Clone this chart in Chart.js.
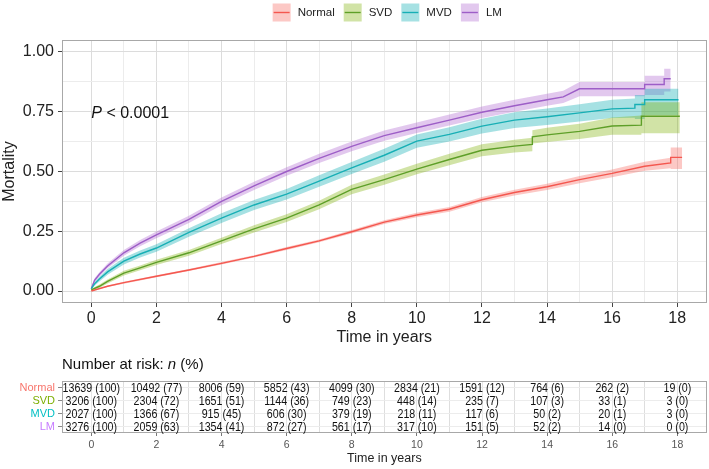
<!DOCTYPE html>
<html>
<head>
<meta charset="utf-8">
<script src="https://cdn.jsdelivr.net/npm/chart.js@4.4.0/dist/chart.umd.min.js"></script>
<style>
  html, body { margin: 0; padding: 0; background: #fff; }
  #wrap { position: relative; width: 709px; height: 469px; }
  #kmChart { position: absolute; left: 0; top: 0; }
  #riskChart { position: absolute; left: 0; top: 350px; }
</style>
</head>
<body>
<div id="wrap">
  <canvas id="kmChart" width="709" height="350"></canvas>
  <canvas id="riskChart" width="709" height="119"></canvas>
</div>
<script>
// === DATA ===
const groups = ["Normal", "SVD", "MVD", "LM"];

// cumulative mortality (duplicated times = visible steps)
const normalTime = [0, 0.5, 1, 2, 3, 4, 5, 6, 7, 8, 9, 10, 11, 12, 13, 14, 15, 16, 17, 17.8, 17.8, 18.15];
const normalEst  = [0, 0.02, 0.035, 0.062, 0.088, 0.116, 0.145, 0.178, 0.21, 0.248, 0.288, 0.318, 0.342, 0.382, 0.412, 0.436, 0.466, 0.492, 0.522, 0.536, 0.559, 0.559];
const normalLow  = [0, 0.017, 0.031, 0.058, 0.084, 0.111, 0.14, 0.172, 0.204, 0.241, 0.28, 0.309, 0.332, 0.371, 0.4, 0.423, 0.451, 0.476, 0.503, 0.514, 0.51, 0.51];
const normalHigh = [0, 0.023, 0.039, 0.066, 0.092, 0.121, 0.15, 0.184, 0.216, 0.255, 0.296, 0.327, 0.352, 0.393, 0.424, 0.449, 0.481, 0.508, 0.541, 0.558, 0.6, 0.6];

const svdTime = [0, 0.25, 0.5, 1, 1.5, 2, 3, 4, 5, 6, 7, 8, 9, 10, 11, 12, 13, 13.55, 13.55, 14, 15, 16, 16.9, 16.9, 18.08];
const svdEst  = [0.005, 0.02, 0.04, 0.075, 0.097, 0.12, 0.16, 0.21, 0.26, 0.305, 0.36, 0.425, 0.466, 0.51, 0.55, 0.589, 0.606, 0.613, 0.645, 0.653, 0.668, 0.69, 0.694, 0.731, 0.731];
const svdLow  = [0, 0.013, 0.032, 0.065, 0.087, 0.109, 0.148, 0.197, 0.245, 0.289, 0.342, 0.405, 0.445, 0.488, 0.526, 0.564, 0.579, 0.585, 0.617, 0.623, 0.636, 0.654, 0.654, 0.66, 0.66];
const svdHigh = [0.01, 0.027, 0.048, 0.085, 0.107, 0.131, 0.172, 0.223, 0.275, 0.321, 0.378, 0.445, 0.487, 0.532, 0.574, 0.614, 0.633, 0.641, 0.673, 0.683, 0.7, 0.726, 0.734, 0.79, 0.79];

const mvdTime = [0, 0.1, 0.25, 0.5, 1, 1.5, 2, 3, 4, 5, 6, 7, 8, 9, 10, 11, 12, 13, 14, 15, 16, 16.7, 16.7, 17, 17, 18.04];
const mvdEst  = [0.01, 0.03, 0.05, 0.08, 0.125, 0.155, 0.18, 0.245, 0.305, 0.36, 0.405, 0.46, 0.515, 0.568, 0.627, 0.655, 0.69, 0.715, 0.729, 0.745, 0.762, 0.765, 0.78, 0.78, 0.8, 0.8];
const mvdLow  = [0.005, 0.022, 0.04, 0.068, 0.111, 0.14, 0.164, 0.227, 0.285, 0.339, 0.383, 0.436, 0.49, 0.541, 0.599, 0.625, 0.659, 0.682, 0.695, 0.709, 0.724, 0.725, 0.72, 0.72, 0.735, 0.735];
const mvdHigh = [0.015, 0.038, 0.06, 0.092, 0.139, 0.17, 0.196, 0.263, 0.325, 0.381, 0.427, 0.484, 0.54, 0.595, 0.655, 0.685, 0.721, 0.748, 0.763, 0.781, 0.8, 0.805, 0.82, 0.82, 0.846, 0.846];

const lmTime = [0, 0.1, 0.25, 0.5, 1, 1.5, 2, 3, 4, 5, 6, 7, 8, 9, 10, 11, 12, 13, 14, 14.5, 15, 17, 17, 17.6, 17.6, 17.8];
const lmEst  = [0.01, 0.045, 0.07, 0.105, 0.16, 0.2, 0.235, 0.3, 0.375, 0.44, 0.5, 0.555, 0.605, 0.65, 0.683, 0.715, 0.748, 0.775, 0.8, 0.812, 0.846, 0.846, 0.864, 0.864, 0.888, 0.888];
const lmLow  = [0.005, 0.037, 0.061, 0.095, 0.148, 0.187, 0.221, 0.285, 0.359, 0.423, 0.482, 0.536, 0.585, 0.629, 0.661, 0.692, 0.724, 0.75, 0.775, 0.786, 0.815, 0.815, 0.82, 0.82, 0.835, 0.835];
const lmHigh = [0.015, 0.053, 0.079, 0.115, 0.172, 0.213, 0.249, 0.315, 0.391, 0.457, 0.518, 0.574, 0.625, 0.671, 0.705, 0.738, 0.772, 0.8, 0.825, 0.838, 0.874, 0.874, 0.9, 0.9, 0.93, 0.93];

// axis ticks
const xTicks = [0, 1, 2, 3, 4, 5, 6, 7, 8, 9, 10, 11, 12, 13, 14, 15, 16, 17, 18];
const yTicks = [0, 0.125, 0.25, 0.375, 0.5, 0.625, 0.75, 0.875, 1];

// number at risk table
const riskTimes = [0, 2, 4, 6, 8, 10, 12, 14, 16, 18];
const riskNormalN   = [13639, 10492, 8006, 5852, 4099, 2834, 1591, 764, 262, 19];
const riskNormalPct = [100, 77, 59, 43, 30, 21, 12, 6, 2, 0];
const riskSvdN      = [3206, 2304, 1651, 1144, 749, 448, 235, 107, 33, 3];
const riskSvdPct    = [100, 72, 51, 36, 23, 14, 7, 3, 1, 0];
const riskMvdN      = [2027, 1366, 915, 606, 379, 218, 117, 50, 20, 3];
const riskMvdPct    = [100, 67, 45, 30, 19, 11, 6, 2, 1, 0];
const riskLmN       = [3276, 2059, 1354, 872, 561, 317, 151, 52, 14, 0];
const riskLmPct     = [100, 63, 41, 27, 17, 10, 5, 2, 0, 0];

// === STYLE ===
const lineColors  = ["#F4574F", "#5E9F28", "#17AFB5", "#9D5EC7"];
const bandColors  = ["rgba(248,118,109,0.4)", "rgba(124,174,0,0.35)", "rgba(0,170,175,0.35)", "rgba(180,110,210,0.38)"];
const labelColors = ["#F8766D", "#7CAE00", "#00BFC4", "#C77CFF"];
const FONT = "'Liberation Sans', Arial, sans-serif";
const majorGrid = "#dcdcdc";
const minorGrid = "#ececec";

const km = [
  { time: normalTime, est: normalEst, low: normalLow, high: normalHigh },
  { time: svdTime, est: svdEst, low: svdLow, high: svdHigh },
  { time: mvdTime, est: mvdEst, low: mvdLow, high: mvdHigh },
  { time: lmTime, est: lmEst, low: lmLow, high: lmHigh }
];
const riskN = [riskNormalN, riskSvdN, riskMvdN, riskLmN];
const riskPct = [riskNormalPct, riskSvdPct, riskMvdPct, riskLmPct];

function pts(xs, ys) {
  return xs.map((x, i) => ({ x: x, y: ys[i] }));
}

// === PLUGINS ===
const panelBorder = {
  id: "panelBorder",
  afterDatasetsDraw(chart) {
    const a = chart.chartArea, ctx = chart.ctx;
    ctx.save();
    ctx.strokeStyle = "#a8a8a8";
    ctx.lineWidth = 1;
    ctx.strokeRect(Math.round(a.left) + 0.5, Math.round(a.top) + 0.5,
                   Math.round(a.width) - 1, Math.round(a.height) - 1);
    ctx.restore();
  }
};

const kmLegend = {
  id: "kmLegend",
  afterDraw(chart) {
    const ctx = chart.ctx, a = chart.chartArea;
    ctx.save();
    ctx.font = "11.5px " + FONT;
    const box = 18, gapText = 7, gapItem = 9, yc = 12.5;
    const widths = groups.map(g => box + gapText + ctx.measureText(g).width);
    const total = widths.reduce((s, w) => s + w, 0) + gapItem * (groups.length - 1);
    let x = (a.left + a.right) / 2 + 3 - total / 2;
    groups.forEach((g, i) => {
      ctx.fillStyle = bandColors[i];
      ctx.fillRect(x, yc - box / 2, box, box);
      ctx.strokeStyle = lineColors[i];
      ctx.lineWidth = 1.4;
      ctx.beginPath();
      ctx.moveTo(x + 1, yc);
      ctx.lineTo(x + box - 1, yc);
      ctx.stroke();
      ctx.fillStyle = "#222";
      ctx.textAlign = "left";
      ctx.textBaseline = "middle";
      ctx.fillText(g, x + box + gapText, yc);
      x += widths[i] + gapItem;
    });
    ctx.restore();
  }
};

const pValue = {
  id: "pValue",
  afterDatasetsDraw(chart) {
    const ctx = chart.ctx;
    const x = chart.scales.x.getPixelForValue(0);
    const y = chart.scales.y.getPixelForValue(0.743);
    ctx.save();
    ctx.fillStyle = "#111";
    ctx.textBaseline = "middle";
    ctx.textAlign = "left";
    ctx.font = "italic 16px " + FONT;
    ctx.fillText("P", x, y);
    const w = ctx.measureText("P").width;
    ctx.font = "16px " + FONT;
    ctx.fillText(" < 0.0001", x + w, y);
    ctx.restore();
  }
};

// === MAIN KM CHART ===
const lineSets = groups.map((g, i) => ({
  label: g,
  data: pts(km[i].time, km[i].est),
  borderColor: lineColors[i],
  borderWidth: 1.4,
  pointRadius: 0,
  fill: false
}));

const bandSets = [];
groups.forEach((g, i) => {
  bandSets.push({
    label: g + " lower",
    data: pts(km[i].time, km[i].low),
    borderWidth: 0,
    pointRadius: 0,
    fill: false
  });
  bandSets.push({
    label: g + " upper",
    data: pts(km[i].time, km[i].high),
    borderWidth: 0,
    pointRadius: 0,
    backgroundColor: bandColors[i],
    fill: { target: "-1", above: bandColors[i], below: bandColors[i] }
  });
});

new Chart(document.getElementById("kmChart"), {
  type: "line",
  data: { datasets: lineSets.concat(bandSets) },
  options: {
    responsive: false,
    animation: false,
    events: [],
    layout: { padding: { top: 40, right: 2.5, left: 0, bottom: 0 } },
    plugins: { legend: { display: false }, tooltip: { enabled: false } },
    scales: {
      x: {
        type: "linear",
        min: -0.9,
        max: 18.9,
        afterBuildTicks: s => { s.ticks = xTicks.map(v => ({ value: v })); },
        afterFit: s => { s.height = 47; },
        border: { display: false },
        grid: {
          color: c => (c.tick && c.tick.value % 2 === 0) ? majorGrid : minorGrid,
          tickColor: c => (c.tick && c.tick.value % 2 === 0) ? "#444" : "rgba(0,0,0,0)",
          tickLength: 4
        },
        ticks: {
          autoSkip: false,
          maxRotation: 0,
          padding: 2,
          color: "#222",
          font: { family: FONT, size: 16 },
          callback: v => (v % 2 === 0 ? String(v) : "")
        },
        title: {
          display: true,
          text: "Time in years",
          color: "#222",
          font: { family: FONT, size: 16 },
          padding: { top: 0, bottom: 3 }
        }
      },
      y: {
        min: -0.05,
        max: 1.05,
        afterBuildTicks: s => { s.ticks = yTicks.map(v => ({ value: v })); },
        afterFit: s => { s.width = 62; },
        border: { display: false },
        grid: {
          color: c => (c.tick && (c.tick.value * 8) % 2 === 0) ? majorGrid : minorGrid,
          tickColor: c => (c.tick && (c.tick.value * 8) % 2 === 0) ? "#444" : "rgba(0,0,0,0)",
          tickLength: 4
        },
        ticks: {
          padding: 4,
          color: "#222",
          font: { family: FONT, size: 16 },
          callback: v => ((v * 8) % 2 === 0 ? v.toFixed(2) : "")
        },
        title: {
          display: true,
          text: "Mortality",
          color: "#222",
          font: { family: FONT, size: 16 },
          padding: { top: 0, bottom: 0 }
        }
      }
    }
  },
  plugins: [panelBorder, kmLegend, pValue]
});

// === NUMBER AT RISK TABLE ===
const riskText = {
  id: "riskText",
  afterDatasetsDraw(chart) {
    const ctx = chart.ctx;
    ctx.save();
    ctx.fillStyle = "#111";
    ctx.textAlign = "center";
    ctx.textBaseline = "middle";
    ctx.font = "13px " + FONT;
    chart.data.datasets.forEach((ds, i) => {
      chart.getDatasetMeta(i).data.forEach((pt, j) => {
        ctx.save();
        ctx.translate(pt.x, pt.y + 0.5);
        ctx.scale(0.82, 1);   // the table font is a condensed one
        ctx.fillText(riskN[i][j] + " (" + riskPct[i][j] + ")", 0, 0);
        ctx.restore();
      });
    });
    // table title with italic n
    let x = 62;
    const y = 15;
    ctx.textAlign = "left";
    ctx.fillStyle = "#111";
    ctx.font = "15px " + FONT;
    ctx.fillText("Number at risk: ", x, y);
    x += ctx.measureText("Number at risk: ").width;
    ctx.font = "italic 15px " + FONT;
    ctx.fillText("n", x, y);
    x += ctx.measureText("n").width;
    ctx.font = "15px " + FONT;
    ctx.fillText(" (%)", x, y);
    ctx.restore();
  }
};

new Chart(document.getElementById("riskChart"), {
  type: "scatter",
  data: {
    datasets: groups.map((g, i) => ({
      label: g,
      data: riskTimes.map(t => ({ x: t, y: g })),
      pointRadius: 0
    }))
  },
  options: {
    responsive: false,
    animation: false,
    events: [],
    layout: { padding: { top: 31, right: 2.3, left: 0, bottom: 0 } },
    plugins: { legend: { display: false }, tooltip: { enabled: false } },
    scales: {
      x: {
        type: "linear",
        min: -0.9,
        max: 18.9,
        afterBuildTicks: s => { s.ticks = xTicks.map(v => ({ value: v })); },
        afterFit: s => { s.height = 36; },
        border: { display: false },
        grid: {
          color: c => (c.tick && c.tick.value % 2 === 0) ? "#e6e6e6" : "#dedede",
          tickColor: c => (c.tick && c.tick.value % 2 === 0) ? "#777" : "rgba(0,0,0,0)",
          tickLength: 3
        },
        ticks: {
          autoSkip: false,
          maxRotation: 0,
          padding: 3,
          color: "#555",
          font: { family: FONT, size: 10.5 },
          callback: v => (v % 2 === 0 ? String(v) : "")
        },
        title: {
          display: true,
          text: "Time in years",
          color: "#222",
          font: { family: FONT, size: 12.5 },
          padding: { top: 0, bottom: 2.5 }
        }
      },
      y: {
        type: "category",
        labels: groups,
        offset: true,
        afterFit: s => { s.width = 62; },
        border: { display: false },
        grid: { offset: false, color: "#ececec", tickColor: "#888", tickLength: 4 },
        ticks: {
          autoSkip: false,
          padding: 3,
          color: c => labelColors[c.index],
          font: { family: FONT, size: 11 }
        }
      }
    }
  },
  plugins: [panelBorder, riskText]
});
</script>
</body>
</html>
